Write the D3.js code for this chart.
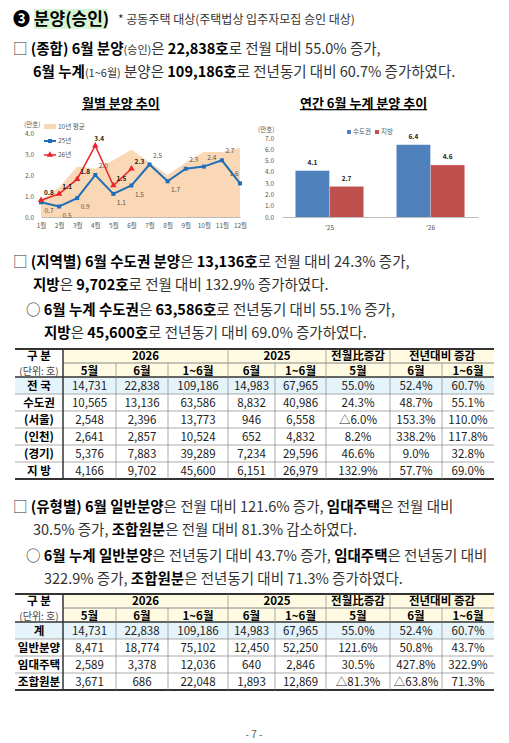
<!DOCTYPE html>
<html><head><meta charset="utf-8">
<script src="https://cdn.jsdelivr.net/npm/d3@7"></script>
<style>body{margin:0;background:#fff}svg{font-family:"Noto Sans CJK KR","Noto Sans",sans-serif}</style>
</head><body>
<script>
/* data */
var months = ['1월','2월','3월','4월','5월','6월','7월','8월','9월','10월','11월','12월']
var avg10 = [0.8, 1.4, 2.4, 2.3, 2.7, 3.2, 2.6, 2.0, 2.6, 3.1, 3.1, 3.3]
var y25 = [0.7, 0.5, 0.9, 2.0, 1.1, 1.5, 2.5, 1.7, 2.3, 2.4, 2.7, 1.6]
var y26 = [0.8, 1.1, 1.8, 3.4, 1.5, 2.3]
var barYears = ["'25", "'26"]
var metro = [4.1, 6.4]
var local = [2.7, 4.6]
var yTicks1 = [0, 1, 2, 3, 4]
var yTicks2 = [0, 1, 2, 3, 4, 5, 6, 7]

var head2 = ['5월','6월','1~6월','6월','1~6월','5월','6월','1~6월']
var rows1 = [
  ['전 국','14,731','22,838','109,186','14,983','67,965','55.0%','52.4%','60.7%'],
  ['수도권','10,565','13,136','63,586','8,832','40,986','24.3%','48.7%','55.1%'],
  ['(서울)','2,548','2,396','13,773','946','6,558','△6.0%','153.3%','110.0%'],
  ['(인천)','2,641','2,857','10,524','652','4,832','8.2%','338.2%','117.8%'],
  ['(경기)','5,376','7,883','39,289','7,234','29,596','46.6%','9.0%','32.8%'],
  ['지   방','4,166','9,702','45,600','6,151','26,979','132.9%','57.7%','69.0%']
]
var rows2 = [
  ['계','14,731','22,838','109,186','14,983','67,965','55.0%','52.4%','60.7%'],
  ['일반분양','8,471','18,774','75,102','12,450','52,250','121.6%','50.8%','43.7%'],
  ['임대주택','2,589','3,378','12,036','640','2,846','30.5%','427.8%','322.9%'],
  ['조합원분','3,671','686','22,048','1,893','12,869','△81.3%','△63.8%','71.3%']
]

var svg = d3.select('body').append('svg').attr('width', 509).attr('height', 743)

/* rich text lines */
function line(x, y, parts, size) {
  var t = svg.append('text').attr('x', x).attr('y', y).style('font-size', (size || 14.5) + 'px').attr('fill', '#111')
  parts.forEach(function(p) {
    t.append('tspan').text(p[0])
      .style('font-weight', p[1] ? 700 : 400)
      .style('font-size', p[2] ? p[2] + 'px' : null)
      .attr('fill', p[1] ? '#000' : '#333')
  })
  return t
}
function axisStyle(a) {
  a.attr('font-size', 6.5).attr('font-family', null)
  a.selectAll('text').attr('fill', '#555')
}

svg.append('rect').attr('x', 34).attr('y', 9).attr('width', 73).attr('height', 20).attr('fill', '#d6f5d2')
line(13, 25, [['❸ 분양(승인)', 1, 17]])
line(118, 24, [['* 공동주택 대상(주택법상 입주자모집 승인 대상)', 0, 12]])
line(13, 54, [['□ ', 0], ['(종합) 6월 분양', 1], ['(승인)', 0, 11], ['은 ', 0], ['22,838호', 1], ['로  전월  대비  55.0%  증가,', 0]])
line(33, 77, [['6월 누계', 1], ['(1~6월)', 0, 11], [' 분양은 ', 0], ['109,186호', 1], ['로  전년동기  대비  60.7%  증가하였다.', 0]])

/* chart 1 */
line(82, 108, [['월별 분양 추이', 1, 13]]).attr('text-decoration', 'underline')
var x1 = d3.scalePoint().domain(months).range([41, 240])
var yS1 = d3.scaleLinear().domain([0, 4]).range([217, 133])
var g1 = svg.append('g').style('font-size', '6.5px')
g1.append('path').datum(avg10).attr('fill', '#fad7b5')
  .attr('d', d3.area().x(function(d, i) { return x1(months[i]) }).y0(yS1(0)).y1(function(d) { return yS1(d) }))
g1.append('g').attr('transform', 'translate(37,0)')
  .call(d3.axisLeft(yS1).tickValues(yTicks1).tickFormat(d3.format('.1f')).tickSize(0))
  .call(function(a) { a.select('.domain').remove(); axisStyle(a) })
g1.append('g').attr('transform', 'translate(0,' + yS1(0) + ')')
  .call(d3.axisBottom(x1).tickSize(0).tickPadding(6))
  .call(function(a) { a.select('.domain').attr('stroke', '#bbb'); axisStyle(a) })
g1.append('text').attr('x', 24).attr('y', 127).text('(만호)').attr('fill', '#555')
var ln = d3.line().x(function(d, i) { return x1(months[i]) }).y(function(d) { return yS1(d) })
g1.append('path').datum(y25).attr('fill', 'none').attr('stroke', '#1f6fb8').attr('stroke-width', 2).attr('d', ln)
g1.append('path').datum(y26).attr('fill', 'none').attr('stroke', '#e8232b').attr('stroke-width', 1.5).attr('d', ln)
g1.selectAll('.m25').data(y25).enter().append('rect')
  .attr('x', function(d, i) { return x1(months[i]) - 2 }).attr('y', function(d) { return yS1(d) - 2 })
  .attr('width', 4).attr('height', 4).attr('fill', '#1f6fb8')
g1.selectAll('.m26').data(y26).enter().append('path')
  .attr('transform', function(d, i) { return 'translate(' + x1(months[i]) + ',' + yS1(d) + ')' })
  .attr('d', d3.symbol(d3.symbolTriangle, 18)).attr('fill', '#e8232b')
g1.selectAll('.l25').data(y25).enter().append('text')
  .attr('x', function(d, i) { return x1(months[i]) + (i == 11 ? -6 : 8) })
  .attr('y', function(d, i) { return yS1(d) + ([0,1,2,4,5,7].indexOf(i) >= 0 ? 11 : -7) })
  .attr('text-anchor', 'middle').attr('fill', '#555').text(function(d) { return d.toFixed(1) })
g1.selectAll('.l26').data(y26).enter().append('text')
  .attr('x', function(d, i) { return x1(months[i]) + (i == 3 ? 4 : 8) })
  .attr('y', function(d) { return yS1(d) - 5 })
  .attr('text-anchor', 'middle').attr('font-weight', 700).attr('fill', '#222').text(function(d) { return d.toFixed(1) })
var lg = g1.append('g')
lg.append('rect').attr('x', 44).attr('y', 124).attr('width', 12).attr('height', 5).attr('fill', '#fad7b5')
lg.append('text').attr('x', 58).attr('y', 129).text('10년 평균').attr('fill', '#555')
lg.append('line').attr('x1', 44).attr('x2', 56).attr('y1', 141).attr('y2', 141).attr('stroke', '#1f6fb8').attr('stroke-width', 2)
lg.append('rect').attr('x', 48).attr('y', 139).attr('width', 4).attr('height', 4).attr('fill', '#1f6fb8')
lg.append('text').attr('x', 58).attr('y', 143).text('25년').attr('fill', '#555')
lg.append('line').attr('x1', 44).attr('x2', 56).attr('y1', 155).attr('y2', 155).attr('stroke', '#e8232b').attr('stroke-width', 1.5)
lg.append('path').attr('transform', 'translate(50,155)').attr('d', d3.symbol(d3.symbolTriangle, 18)).attr('fill', '#e8232b')
lg.append('text').attr('x', 58).attr('y', 157).text('26년').attr('fill', '#555')

/* chart 2 */
line(300, 108, [['연간 6월 누계 분양 추이', 1, 13]]).attr('text-decoration', 'underline')
var x2 = d3.scaleBand().domain(barYears).range([282, 478]).paddingInner(0.32).paddingOuter(0.13)
var xs = d3.scaleBand().domain(['metro', 'local']).range([0, x2.bandwidth()]).padding(0.01)
var yS2 = d3.scaleLinear().domain([0, 7]).range([217, 138])
var g2 = svg.append('g').style('font-size', '6.5px')
g2.append('g').attr('transform', 'translate(277,0)')
  .call(d3.axisLeft(yS2).tickValues(yTicks2).tickFormat(d3.format('.1f')).tickSize(0))
  .call(function(a) { a.select('.domain').remove(); axisStyle(a) })
g2.append('g').attr('transform', 'translate(0,' + yS2(0) + ')')
  .call(d3.axisBottom(x2).tickSize(0).tickPadding(8))
  .call(function(a) { a.select('.domain').attr('stroke', '#bbb'); axisStyle(a) })
g2.append('text').attr('x', 258).attr('y', 132).text('(만호)').attr('fill', '#555')
;[['metro', metro, '#4f81bd'], ['local', local, '#c0504d']].forEach(function(s) {
  var gg = g2.append('g')
  gg.selectAll('rect').data(s[1]).enter().append('rect')
    .attr('x', function(d, i) { return x2(barYears[i]) + xs(s[0]) }).attr('width', xs.bandwidth())
    .attr('y', function(d) { return yS2(d) }).attr('height', function(d) { return yS2(0) - yS2(d) }).attr('fill', s[2])
  gg.selectAll('text').data(s[1]).enter().append('text')
    .attr('x', function(d, i) { return x2(barYears[i]) + xs(s[0]) + xs.bandwidth() / 2 })
    .attr('y', function(d) { return yS2(d) - 6 }).attr('text-anchor', 'middle').attr('font-weight', 700).attr('fill', '#222')
    .text(function(d) { return d.toFixed(1) })
})
g2.append('rect').attr('x', 347).attr('y', 130).attr('width', 4).attr('height', 4).attr('fill', '#4f81bd')
g2.append('text').attr('x', 353).attr('y', 134).text('수도권').attr('fill', '#555')
g2.append('rect').attr('x', 375).attr('y', 130).attr('width', 4).attr('height', 4).attr('fill', '#c0504d')
g2.append('text').attr('x', 381).attr('y', 134).text('지방').attr('fill', '#555')

/* middle texts */
line(13, 267, [['□ ', 0], ['(지역별) 6월 수도권 분양', 1], ['은 ', 0], ['13,136호', 1], ['로  전월  대비  24.3%  증가,', 0]])
line(33, 290, [['지방', 1], ['은 ', 0], ['9,702호', 1], ['로  전월  대비  132.9%  증가하였다.', 0]])
line(26, 315, [['○  ', 0], ['6월 누계 수도권', 1], ['은 ', 0], ['63,586호', 1], ['로  전년동기  대비  55.1%  증가,', 0]])
line(44, 338, [['지방', 1], ['은 ', 0], ['45,600호', 1], ['로  전년동기  대비  69.0%  증가하였다.', 0]])
line(13, 512, [['□ ', 0], ['(유형별) 6월 일반분양', 1], ['은  전월  대비  121.6%  증가,  ', 0], ['임대주택', 1], ['은  전월  대비', 0]])
line(33, 535, [['30.5%  증가,  ', 0], ['조합원분', 1], ['은  전월  대비  81.3%  감소하였다.', 0]])
line(26, 561, [['○  ', 0], ['6월 누계 일반분양', 1], ['은  전년동기  대비  43.7%  증가,  ', 0], ['임대주택', 1], ['은  전년동기  대비', 0]])
line(44, 584, [['322.9%  증가,  ', 0], ['조합원분', 1], ['은  전년동기  대비  71.3%  증가하였다.', 0]])

/* tables */
var colX = [15, 63, 116, 168, 228, 275, 326, 390, 442, 494]
function table(top, rows, rowH) {
  var g = svg.append('g').style('font-size', '11.5px')
  var h1 = 14, h2 = 14, bodyTop = top + h1 + h2
  g.append('rect').attr('x', colX[1]).attr('y', top).attr('width', colX[9] - colX[1]).attr('height', h1 + h2).attr('fill', '#fffbe3')
  g.append('rect').attr('x', colX[0]).attr('y', bodyTop).attr('width', colX[9] - colX[0]).attr('height', rowH).attr('fill', '#e5f3fb')
  var groups = [['2026', 1, 4], ['2025', 4, 6], ['전월比증감', 6, 7], ['전년대비  증감', 7, 9]]
  groups.forEach(function(gr) {
    g.append('text').attr('x', (colX[gr[1]] + colX[gr[2]]) / 2).attr('y', top + 11).attr('text-anchor', 'middle').attr('font-weight', 700).text(gr[0])
  })
  head2.forEach(function(h, i) {
    g.append('text').attr('x', (colX[i + 1] + colX[i + 2]) / 2).attr('y', top + h1 + 12).attr('text-anchor', 'middle').attr('font-weight', 700).text(h)
  })
  g.append('text').attr('x', 39).attr('y', top + 11).attr('text-anchor', 'middle').attr('font-weight', 700).text('구 분')
  g.append('text').attr('x', 39).attr('y', top + h1 + 12).attr('text-anchor', 'middle').attr('fill', '#444').style('font-size', '10px').text('(단위: 호)')
  rows.forEach(function(r, ri) {
    r.forEach(function(c, ci) {
      g.append('text').attr('x', (colX[ci] + colX[ci + 1]) / 2).attr('y', bodyTop + ri * rowH + rowH / 2 + 4.5)
        .attr('text-anchor', 'middle').attr('font-weight', ci == 0 ? 700 : 400).attr('fill', ci == 0 ? '#000' : '#222').text(c)
    })
  })
  var bottom = bodyTop + rows.length * rowH
  var st = '#888'
  ;[top, bottom].forEach(function(y) { g.append('line').attr('x1', colX[0]).attr('x2', colX[9]).attr('y1', y).attr('y2', y).attr('stroke', '#333').attr('stroke-width', 2) })
  g.append('line').attr('x1', colX[0]).attr('x2', colX[9]).attr('y1', bodyTop).attr('y2', bodyTop).attr('stroke', '#333').attr('stroke-width', 1.5)
  g.append('line').attr('x1', colX[1]).attr('x2', colX[9]).attr('y1', top + h1).attr('y2', top + h1).attr('stroke', st)
  d3.range(1, rows.length).forEach(function(i) {
    g.append('line').attr('x1', colX[0]).attr('x2', colX[9]).attr('y1', bodyTop + i * rowH).attr('y2', bodyTop + i * rowH).attr('stroke', st).attr('stroke-width', 0.7)
  })
  colX.slice(1, 9).forEach(function(x, i) {
    var y0 = [1, 2, 4, 7].indexOf(i) >= 0 ? top + h1 : top
    g.append('line').attr('x1', x).attr('x2', x).attr('y1', y0).attr('y2', bottom).attr('stroke', i == 0 ? '#333' : st).attr('stroke-width', i == 0 ? 1.5 : 0.7)
  })
}
table(349, rows1, 17)
table(594, rows2, 17)

svg.append('text').attr('x', 254).attr('y', 738).attr('text-anchor', 'middle').style('font-size', '10px').attr('fill', '#555').text('- 7 -')
</script>
</body></html>
